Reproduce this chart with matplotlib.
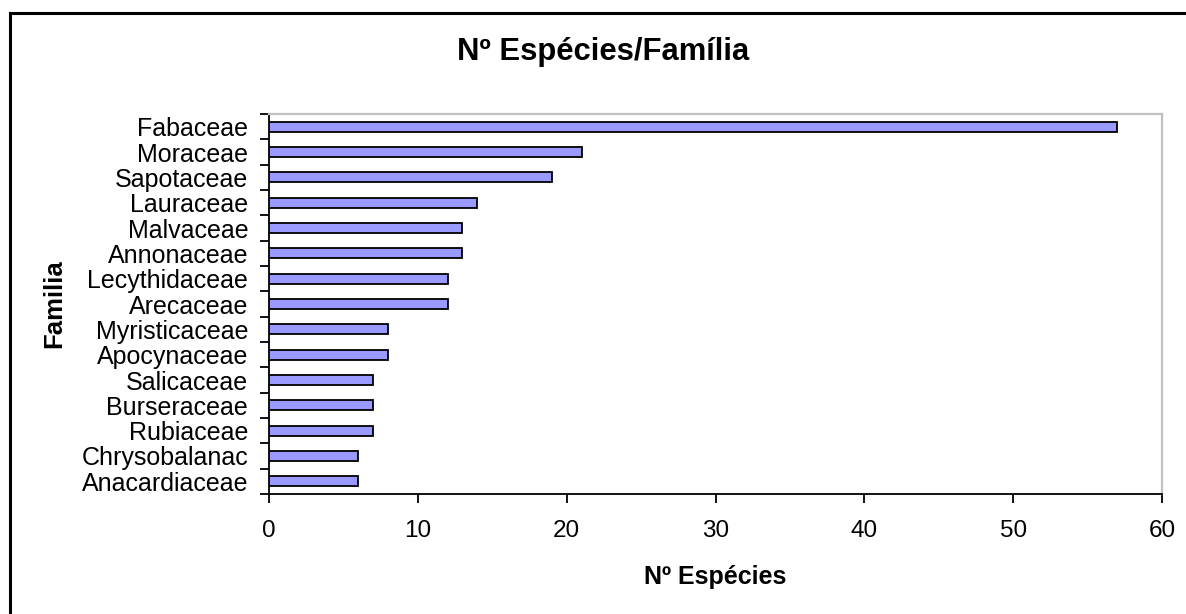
import matplotlib
matplotlib.use("Agg")
import matplotlib.pyplot as plt
from matplotlib.patches import Rectangle
import numpy as np

plt.rcParams['font.family'] = ['Liberation Sans', 'DejaVu Sans']

familias = ["Fabaceae", "Moraceae", "Sapotaceae", "Lauraceae", "Malvaceae",
            "Annonaceae", "Lecythidaceae", "Arecaceae", "Myristicaceae",
            "Apocynaceae", "Salicaceae", "Burseraceae", "Rubiaceae",
            "Chrysobalanac", "Anacardiaceae"]
especies = [57, 21, 19, 14, 13, 13, 12, 12, 8, 8, 7, 7, 7, 6, 6]
x_ticks = [0, 10, 20, 30, 40, 50, 60]

W, H = 1186, 614
fig = plt.figure(figsize=(W / 100, H / 100), dpi=100)

# outer chart frame
fig.patches.append(Rectangle((10 / W, -0.05), 1.1, (H - 13) / H + 0.05,
                             transform=fig.transFigure, fill=False,
                             edgecolor='black', linewidth=2.2, zorder=0))

left, right, top, bottom = 269, 1162, 114, 494
ax = fig.add_axes([left / W, 1 - bottom / H, (right - left) / W, (bottom - top) / H])

n = len(familias)
pos = np.arange(n)[::-1]
ax.barh(pos, especies, height=0.4, color='#9999FF', edgecolor='black',
        linewidth=1.3, zorder=3)

ax.set_xlim(0, 60)
ax.set_ylim(-0.5, n - 0.5)
ax.set_xticks(x_ticks)
ax.set_xticklabels([str(t) for t in x_ticks], fontsize=17.5)

ax.set_yticks(pos)
ax.set_yticklabels(familias, fontsize=18)
ax.tick_params(axis='y', which='major', length=0, pad=15)
ax.set_yticks(np.arange(-0.5, n, 1.0), minor=True)
ax.tick_params(axis='y', which='minor', length=6.5, width=1.3, direction='out')
ax.tick_params(axis='x', which='major', length=6.5, width=1.3, direction='out', pad=12)

for s in ('left', 'bottom'):
    ax.spines[s].set_color('black')
    ax.spines[s].set_linewidth(1.3)
for s in ('top', 'right'):
    ax.spines[s].set_color('#c0c0c0')
    ax.spines[s].set_linewidth(1.6)

fig.text(715.5 / W, 1 - 577 / H, 'Nº Espécies', fontsize=18, fontweight='bold',
         ha='center', va='center')
fig.text(54 / W, 1 - 304 / H, 'Familia', fontsize=18.5, fontweight='bold',
         rotation=90, ha='center', va='center')
fig.text(603 / W, 1 - 52 / H, 'Nº Espécies/Família', fontsize=22.3,
         fontweight='bold', ha='center', va='center')

fig.savefig('out.png', dpi=100)
